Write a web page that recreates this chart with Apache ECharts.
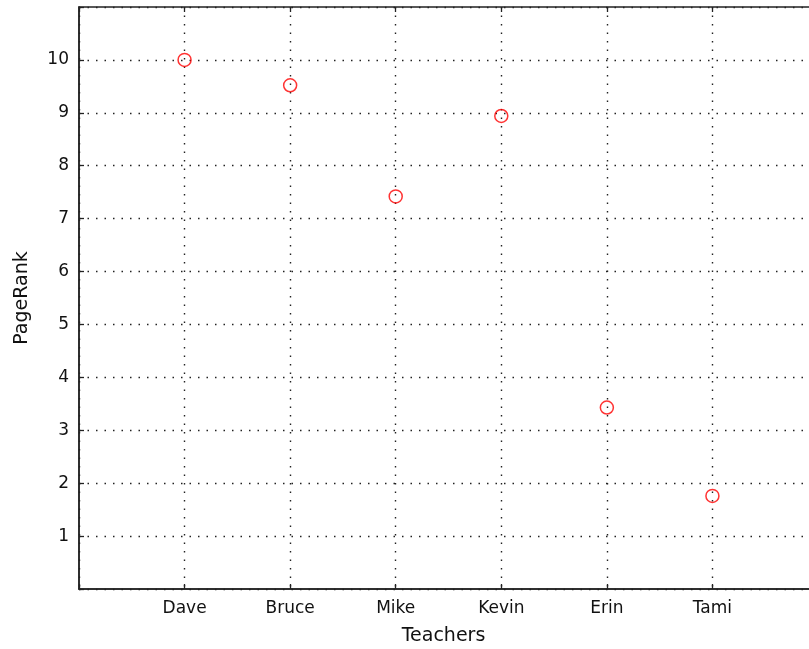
<!DOCTYPE html>
<html><head><meta charset="utf-8">
<script src="https://cdn.jsdelivr.net/npm/echarts@6/dist/echarts.min.js"></script>
<style>html,body{margin:0;padding:0;background:#fff}#c{width:809px;height:649px}</style>
</head><body><div id="c"></div>
<script>
var teachers = ['Dave', 'Bruce', 'Mike', 'Kevin', 'Erin', 'Tami'];
var pageRank = [10.0, 9.52, 7.42, 8.94, 3.43, 1.76];
var yTickLabels = [1, 2, 3, 4, 5, 6, 7, 8, 9, 10];

var points = teachers.map(function (t, i) { return [i + 1, pageRank[i]]; });
var font = 'DejaVu Sans, sans-serif';
var fs = 17;
var nfs = 19;
var grid = { type: [1.5, 7], color: '#222', width: 1.4 };

var chart = echarts.init(document.getElementById('c'), null, { renderer: 'canvas' });
chart.setOption({
  animation: false,
  backgroundColor: '#fff',
  grid: { left: 79, top: 7, width: 739, bottom: 60, show: true, borderColor: '#222', borderWidth: 1.5,
          outerBoundsMode: 'none', containLabel: false },
  xAxis: [{
    type: 'value', min: 0, max: 7, interval: 1,
    name: 'Teachers', nameLocation: 'middle', nameGap: 38,
    nameTextStyle: { fontFamily: font, fontSize: nfs, color: '#111', padding: [0, 10, 0, 0] },
    axisLine: { show: true, lineStyle: { color: '#222', width: 1.5 } },
    axisTick: { show: true, inside: true, length: 5, lineStyle: { color: '#222', width: 1.3 } },
    axisLabel: { fontFamily: font, fontSize: fs, color: '#111', margin: 11,
      formatter: function (v) { return teachers[v - 1] || ''; } },
    splitLine: { show: true, lineStyle: grid }
  }, {
    type: 'value', min: 0, max: 7, interval: 1, position: 'top',
    axisLine: { show: false },
    axisTick: { show: true, inside: true, length: 5, lineStyle: { color: '#222', width: 1.3 } },
    axisLabel: { show: false }, splitLine: { show: false }
  }],
  yAxis: {
    type: 'value', min: 0, max: 11, interval: 1,
    name: 'PageRank', nameLocation: 'middle', nameGap: 47, nameRotate: 90,
    nameTextStyle: { fontFamily: font, fontSize: nfs, color: '#111' },
    axisLine: { show: true, lineStyle: { color: '#222', width: 1.5 } },
    axisTick: { show: true, inside: true, length: 5, lineStyle: { color: '#222', width: 1.3 } },
    axisLabel: { fontFamily: font, fontSize: fs, color: '#111', margin: 10,
      formatter: function (v) { return yTickLabels.indexOf(v) >= 0 ? String(v) : ''; } },
    splitLine: { show: true, lineStyle: grid }
  },
  series: [{
    type: 'scatter', data: points, symbol: 'circle', symbolSize: 13,
    itemStyle: { color: 'rgba(0,0,0,0)', borderColor: '#ff0000', borderWidth: 1.5 }
  }]
});
</script></body></html>
